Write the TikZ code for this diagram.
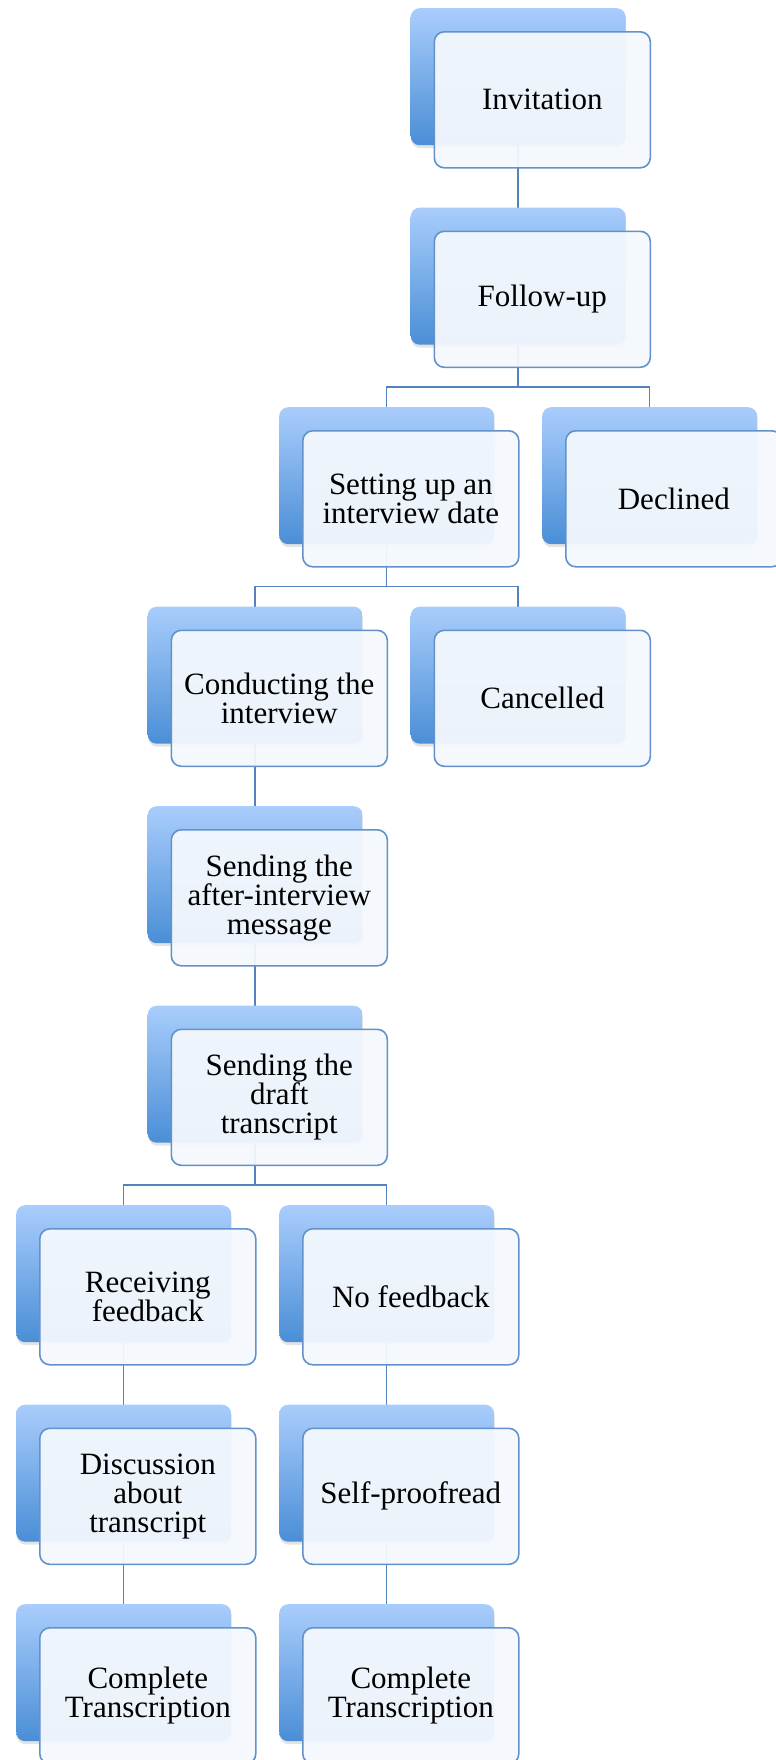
\documentclass[tikz,border=0pt]{standalone}
\usepackage{fontspec}
\setmainfont{Liberation Serif}
\usetikzlibrary{calc,shadows}
\definecolor{bluetop}{RGB}{169,205,252}
\definecolor{bluebot}{RGB}{74,142,214}
\definecolor{linkblue}{RGB}{84,130,190}
\definecolor{frontline}{RGB}{98,146,201}
\definecolor{frontfill}{RGB}{244,248,253}
\pgfdeclarelayer{bg}
\pgfsetlayers{bg,main}
\tikzset{
  backbox/.style={anchor=north west, rounded corners=9bp, minimum width=215bp,
    minimum height=137bp, inner sep=0pt, top color=bluetop, bottom color=bluebot,
    draw=none, drop shadow={shadow xshift=0.5bp, shadow yshift=-3bp, opacity=0.22}},
  frontbox/.style={anchor=north west, rounded corners=10bp, minimum width=216bp,
    minimum height=136bp, inner sep=0pt, draw=frontline, line width=1.6bp,
    fill=frontfill, fill opacity=0.95, text opacity=1, align=center,
    font=\fontsize{31bp}{29bp}\selectfont},
  link/.style={draw=linkblue, line width=1.5bp}
}
\newcommand\flowitem[4]{%
  \node[backbox] (b#1) at ({16+131.5*#2},{8+199.5*#3}) {};
  \node[frontbox] (#1) at ($(b#1.north west)+(23,23)$) {#4};
}
\begin{document}
\begin{tikzpicture}[x=1bp,y=-1bp]
\useasboundingbox (0,0) rectangle (776,1760);
\flowitem{inv}{3}{0}{Invitation}
\flowitem{fol}{3}{1}{Follow-up}
\flowitem{set}{2}{2}{Setting up an\\interview date}
\flowitem{dec}{4}{2}{Declined}
\flowitem{con}{1}{3}{Conducting the\\interview}
\flowitem{can}{3}{3}{Cancelled}
\flowitem{aft}{1}{4}{Sending the\\after-interview\\message}
\flowitem{dra}{1}{5}{Sending the\\draft\\transcript}
\flowitem{rec}{0}{6}{Receiving\\feedback}
\flowitem{nof}{2}{6}{No feedback}
\flowitem{dis}{0}{7}{Discussion\\about\\transcript}
\flowitem{sel}{2}{7}{Self-proofread}
\flowitem{coa}{0}{8}{Complete\\Transcription}
\flowitem{cob}{2}{8}{Complete\\Transcription}
\coordinate (j1) at ($(bset.north)+(0,-20)$);
\coordinate (j2) at ($(bcon.north)+(0,-20)$);
\coordinate (j3) at ($(brec.north)+(0,-20)$);
\begin{pgfonlayer}{bg}
\draw[link] (binv.south) -- (bfol.north);
\draw[link] (bfol.south) -- (bfol.south |- j1) -| (bset.north);
\draw[link] (bfol.south |- j1) -| (bdec.north);
\draw[link] (bset.south) -- (bset.south |- j2) -| (bcon.north);
\draw[link] (bset.south |- j2) -| (bcan.north);
\draw[link] (bcon.south) -- (baft.north);
\draw[link] (baft.south) -- (bdra.north);
\draw[link] (bdra.south) -- (bdra.south |- j3) -| (brec.north);
\draw[link] (bdra.south |- j3) -| (bnof.north);
\draw[link] (brec.south) -- (bdis.north);
\draw[link] (bdis.south) -- (bcoa.north);
\draw[link] (bnof.south) -- (bsel.north);
\draw[link] (bsel.south) -- (bcob.north);
\end{pgfonlayer}
\end{tikzpicture}
\end{document}
